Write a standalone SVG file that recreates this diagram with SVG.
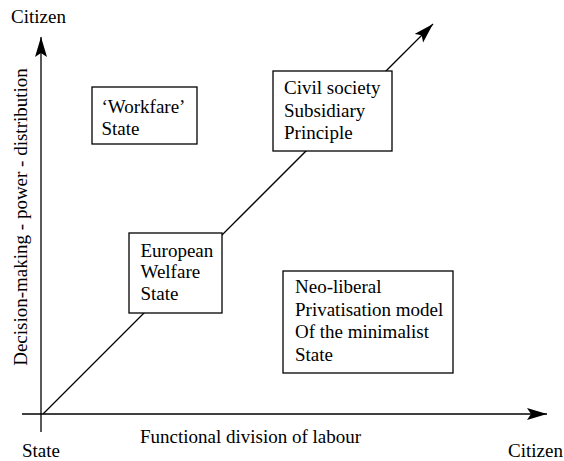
<svg xmlns="http://www.w3.org/2000/svg" width="564" height="461" viewBox="0 0 564 461">
<defs>
<marker id="arr" markerUnits="userSpaceOnUse" markerWidth="22" markerHeight="14" refX="20" refY="6" orient="auto">
<path d="M0,0 L20,6 L0,12 L4,6 Z" fill="#000"/>
</marker>
</defs>
<rect width="564" height="461" fill="#fff"/>
<g id="connectors" stroke="#000" stroke-width="1.3" fill="none">
<line x1="41" y1="432" x2="41" y2="37" marker-end="url(#arr)"/>
<line x1="22" y1="414" x2="547" y2="414" marker-end="url(#arr)"/>
<line x1="43" y1="414" x2="433" y2="24" marker-end="url(#arr)"/>
</g>
<g id="axis-labels" style="font-family:'Liberation Serif';font-size:19px">
<text x="11" y="23">Citizen</text>
<text x="22" y="457">State</text>
<text x="140" y="443">Functional division of labour</text>
<text x="508" y="457">Citizen</text>
<text transform="translate(27,217) rotate(-90)" text-anchor="middle">Decision-making - power - distribution</text>
</g>
<g id="workfare" style="font-family:'Liberation Serif';font-size:19px">
<rect x="92" y="87" width="105" height="57" fill="#fff" stroke="#000" stroke-width="1.3"/>
<text x="101.5" y="113">‘Workfare’</text>
<text x="101.5" y="135">State</text>
</g>
<g id="civil-society" style="font-family:'Liberation Serif';font-size:19px">
<rect x="273" y="71" width="119" height="80" fill="#fff" stroke="#000" stroke-width="1.3"/>
<text x="284" y="94">Civil society</text>
<text x="284" y="117">Subsidiary</text>
<text x="284" y="139">Principle</text>
</g>
<g id="european" style="font-family:'Liberation Serif';font-size:19px">
<rect x="129" y="233" width="93" height="80" fill="#fff" stroke="#000" stroke-width="1.3"/>
<text x="140.5" y="256.5">European</text>
<text x="140.5" y="278">Welfare</text>
<text x="140.5" y="300">State</text>
</g>
<g id="neoliberal" style="font-family:'Liberation Serif';font-size:19px">
<rect x="283" y="271" width="170" height="102" fill="#fff" stroke="#000" stroke-width="1.3"/>
<text x="295" y="293">Neo-liberal</text>
<text x="295" y="315.5">Privatisation model</text>
<text x="295" y="338">Of the minimalist</text>
<text x="295" y="360.5">State</text>
</g>
</svg>
